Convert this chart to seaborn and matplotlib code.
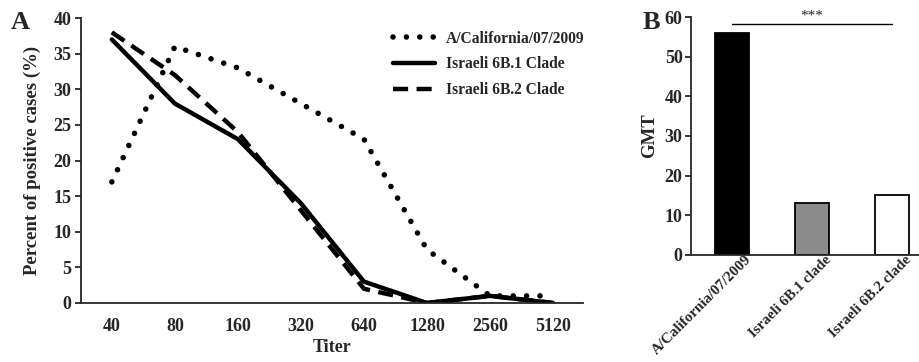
import numpy as np
import pandas as pd
import seaborn as sns
import matplotlib.pyplot as plt
from matplotlib.transforms import ScaledTranslation

# panel A: distribution of titers
titers = ["40", "80", "160", "320", "640", "1280", "2560", "5120"]
california = [17, 36, 33, 28, 23, 7.5, 1, 1]
clade_6b1 = [37, 28, 23, 14, 3, 0, 1, 0]
clade_6b2 = [38, 32, 24, 13, 2, 0, 1, 0]
series_names = ["A/California/07/2009", "Israeli 6B.1 Clade", "Israeli 6B.2 Clade"]

# panel B: GMT per strain
strains = ["A/California/07/2009", "Israeli 6B.1 clade", "Israeli 6B.2 clade"]
gmt = [56, 13, 15]
bar_colors = ["#000000", "#8c8c8c", "#ffffff"]

sns.set_style("ticks")
plt.rcParams["font.family"] = ["Liberation Serif", "DejaVu Serif"]
plt.rcParams["font.weight"] = "bold"

fig = plt.figure(figsize=(9.2, 3.62), dpi=100)
axA = fig.add_axes([0.088, 0.163, 0.546, 0.787])
axB = fig.add_axes([0.751, 0.296, 0.249, 0.657])

pos = np.arange(len(titers))
styles = [
    dict(linestyle=(0, (0.01, 2.4)), lw=4.0, dash_capstyle="round"),
    dict(linestyle="-", lw=3.2),
    dict(linestyle=(0, (3.4, 1.9)), lw=3.2, dash_capstyle="butt"),
]
for name, vals, st in zip(series_names, [california, clade_6b1, clade_6b2], styles):
    sns.lineplot(x=pos, y=vals, ax=axA, color="black", label=name, **st)

axA.set_xlim(-0.49, 7.48)
axA.set_ylim(0, 40)
axA.set_xticks(pos)
axA.set_xticklabels(titers, fontsize=13, fontweight="bold")
axA.set_yticks(range(0, 41, 5))
axA.tick_params(axis="y", labelsize=13, length=4, width=1.3, pad=3)
axA.tick_params(axis="x", length=0, pad=11)
for lab in axA.get_yticklabels():
    lab.set_fontweight("bold")
axA.set_xlabel("Titer", fontsize=13, fontweight="bold", labelpad=3)
axA.set_ylabel("Percent of positive cases (%)", fontsize=13.5, fontweight="bold", labelpad=9)
for s in ["left", "bottom"]:
    axA.spines[s].set_linewidth(1.3)
sns.despine(ax=axA)
leg = axA.legend(loc="upper right", frameon=False, fontsize=11.2, handlelength=2.7,
                 handletextpad=0.7, labelspacing=0.62, bbox_to_anchor=(1.03, 1.005))
for t in leg.get_texts():
    t.set_fontweight("bold")
fig.text(0.012, 1 - 11 / 362, "A", fontsize=19, fontweight="bold", va="top")

# panel B
sns.barplot(x=strains, y=gmt, hue=strains, palette=bar_colors, legend=False,
            edgecolor="black", linewidth=1.3, width=0.42, ax=axB)
axB.set_xlim(-0.51, 2.35)
axB.set_ylim(0, 60)
axB.set_yticks(range(0, 61, 10))
axB.tick_params(axis="y", labelsize=13, length=4, width=1.3, pad=2)
axB.tick_params(axis="x", length=0, pad=0)
for lab in axB.get_yticklabels():
    lab.set_fontweight("bold")
axB.set_xticks(range(len(strains)))
axB.set_xticklabels(strains, rotation=45, ha="right", rotation_mode="anchor",
                    fontsize=10.8, fontweight="bold")
shift = ScaledTranslation(0.13, 0.02, fig.dpi_scale_trans)
for lab in axB.get_xticklabels():
    lab.set_transform(lab.get_transform() + shift)
axB.set_xlabel("")
axB.set_ylabel("GMT", fontsize=13.5, fontweight="bold", labelpad=5)
for s in ["left", "bottom"]:
    axB.spines[s].set_linewidth(1.3)
sns.despine(ax=axB)
axB.plot([0, 2], [58.3, 58.3], color="black", lw=1.0, clip_on=False)
axB.text(1, 58.6, "***", ha="center", va="bottom", fontsize=11, fontweight="normal")
fig.text(0.698, 1 - 11 / 362, "B", fontsize=19, fontweight="bold", va="top")

fig.savefig("out.png", dpi=100)
